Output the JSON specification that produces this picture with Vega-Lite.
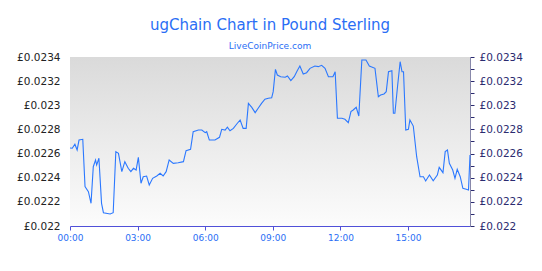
{
  "$schema": "https://vega.github.io/schema/vega-lite/v6.json",
  "width": 400,
  "height": 169,
  "autosize": "none",
  "padding": {"left": 70, "right": 72, "top": 57, "bottom": 45},
  "background": "white",
  "config": {
    "view": {"stroke": null},
    "font": "DejaVu Sans"
  },
  "title": {
    "text": "ugChain Chart in Pound Sterling",
    "subtitle": "LiveCoinPrice.com",
    "anchor": "middle",
    "frame": "group",
    "font": "DejaVu Sans",
    "subtitleFont": "DejaVu Sans",
    "fontSize": 15,
    "fontWeight": "normal",
    "subtitleFontSize": 9,
    "color": "#2a6ef5",
    "subtitleColor": "#2a6ef5",
    "subtitlePadding": 9,
    "offset": 1
  },
  "data": {
    "values": [
      {"t": "2024-01-01T00:00", "v": 0.022646},
      {"t": "2024-01-01T00:06", "v": 0.022644},
      {"t": "2024-01-01T00:13", "v": 0.022677},
      {"t": "2024-01-01T00:19", "v": 0.022630},
      {"t": "2024-01-01T00:24", "v": 0.022712},
      {"t": "2024-01-01T00:34", "v": 0.022718},
      {"t": "2024-01-01T00:40", "v": 0.022326},
      {"t": "2024-01-01T00:49", "v": 0.022284},
      {"t": "2024-01-01T00:56", "v": 0.022188},
      {"t": "2024-01-01T01:02", "v": 0.022491},
      {"t": "2024-01-01T01:08", "v": 0.022547},
      {"t": "2024-01-01T01:11", "v": 0.022505},
      {"t": "2024-01-01T01:17", "v": 0.022561},
      {"t": "2024-01-01T01:24", "v": 0.022188},
      {"t": "2024-01-01T01:29", "v": 0.022110},
      {"t": "2024-01-01T01:47", "v": 0.022099},
      {"t": "2024-01-01T01:55", "v": 0.022110},
      {"t": "2024-01-01T02:02", "v": 0.022616},
      {"t": "2024-01-01T02:09", "v": 0.022602},
      {"t": "2024-01-01T02:18", "v": 0.022450},
      {"t": "2024-01-01T02:26", "v": 0.022533},
      {"t": "2024-01-01T02:35", "v": 0.022478},
      {"t": "2024-01-01T02:42", "v": 0.022450},
      {"t": "2024-01-01T02:49", "v": 0.022478},
      {"t": "2024-01-01T02:56", "v": 0.022464},
      {"t": "2024-01-01T03:02", "v": 0.022569},
      {"t": "2024-01-01T03:09", "v": 0.022354},
      {"t": "2024-01-01T03:15", "v": 0.022408},
      {"t": "2024-01-01T03:24", "v": 0.022414},
      {"t": "2024-01-01T03:31", "v": 0.022340},
      {"t": "2024-01-01T03:40", "v": 0.022395},
      {"t": "2024-01-01T03:51", "v": 0.022414},
      {"t": "2024-01-01T04:00", "v": 0.022437},
      {"t": "2024-01-01T04:08", "v": 0.022414},
      {"t": "2024-01-01T04:16", "v": 0.022450},
      {"t": "2024-01-01T04:24", "v": 0.022547},
      {"t": "2024-01-01T04:35", "v": 0.022519},
      {"t": "2024-01-01T04:48", "v": 0.022524},
      {"t": "2024-01-01T05:02", "v": 0.022533},
      {"t": "2024-01-01T05:09", "v": 0.022624},
      {"t": "2024-01-01T05:21", "v": 0.022635},
      {"t": "2024-01-01T05:28", "v": 0.022781},
      {"t": "2024-01-01T05:42", "v": 0.022795},
      {"t": "2024-01-01T05:51", "v": 0.022795},
      {"t": "2024-01-01T06:00", "v": 0.022773},
      {"t": "2024-01-01T06:04", "v": 0.022781},
      {"t": "2024-01-01T06:11", "v": 0.022712},
      {"t": "2024-01-01T06:26", "v": 0.022712},
      {"t": "2024-01-01T06:38", "v": 0.022735},
      {"t": "2024-01-01T06:44", "v": 0.022801},
      {"t": "2024-01-01T06:53", "v": 0.022795},
      {"t": "2024-01-01T06:59", "v": 0.022818},
      {"t": "2024-01-01T07:06", "v": 0.022789},
      {"t": "2024-01-01T07:15", "v": 0.022809},
      {"t": "2024-01-01T07:24", "v": 0.022845},
      {"t": "2024-01-01T07:33", "v": 0.022878},
      {"t": "2024-01-01T07:41", "v": 0.022809},
      {"t": "2024-01-01T07:49", "v": 0.022809},
      {"t": "2024-01-01T07:55", "v": 0.023016},
      {"t": "2024-01-01T08:04", "v": 0.022983},
      {"t": "2024-01-01T08:13", "v": 0.022939},
      {"t": "2024-01-01T08:21", "v": 0.022975},
      {"t": "2024-01-01T08:30", "v": 0.023016},
      {"t": "2024-01-01T08:39", "v": 0.023050},
      {"t": "2024-01-01T08:48", "v": 0.023058},
      {"t": "2024-01-01T08:57", "v": 0.023063},
      {"t": "2024-01-01T09:01", "v": 0.023113},
      {"t": "2024-01-01T09:07", "v": 0.023298},
      {"t": "2024-01-01T09:12", "v": 0.023251},
      {"t": "2024-01-01T09:21", "v": 0.023237},
      {"t": "2024-01-01T09:33", "v": 0.023232},
      {"t": "2024-01-01T09:39", "v": 0.023243},
      {"t": "2024-01-01T09:48", "v": 0.023204},
      {"t": "2024-01-01T09:57", "v": 0.023237},
      {"t": "2024-01-01T10:05", "v": 0.023287},
      {"t": "2024-01-01T10:12", "v": 0.023325},
      {"t": "2024-01-01T10:21", "v": 0.023259},
      {"t": "2024-01-01T10:30", "v": 0.023270},
      {"t": "2024-01-01T10:39", "v": 0.023306},
      {"t": "2024-01-01T10:52", "v": 0.023325},
      {"t": "2024-01-01T11:01", "v": 0.023320},
      {"t": "2024-01-01T11:10", "v": 0.023331},
      {"t": "2024-01-01T11:19", "v": 0.023306},
      {"t": "2024-01-01T11:28", "v": 0.023237},
      {"t": "2024-01-01T11:40", "v": 0.023237},
      {"t": "2024-01-01T11:46", "v": 0.023278},
      {"t": "2024-01-01T11:52", "v": 0.022892},
      {"t": "2024-01-01T12:04", "v": 0.022892},
      {"t": "2024-01-01T12:12", "v": 0.022884},
      {"t": "2024-01-01T12:21", "v": 0.022856},
      {"t": "2024-01-01T12:28", "v": 0.022947},
      {"t": "2024-01-01T12:34", "v": 0.022961},
      {"t": "2024-01-01T12:42", "v": 0.022983},
      {"t": "2024-01-01T12:49", "v": 0.022911},
      {"t": "2024-01-01T12:57", "v": 0.023375},
      {"t": "2024-01-01T13:08", "v": 0.023375},
      {"t": "2024-01-01T13:17", "v": 0.023325},
      {"t": "2024-01-01T13:32", "v": 0.023306},
      {"t": "2024-01-01T13:41", "v": 0.023071},
      {"t": "2024-01-01T13:47", "v": 0.023085},
      {"t": "2024-01-01T13:56", "v": 0.023094},
      {"t": "2024-01-01T14:02", "v": 0.023113},
      {"t": "2024-01-01T14:08", "v": 0.023278},
      {"t": "2024-01-01T14:17", "v": 0.023287},
      {"t": "2024-01-01T14:21", "v": 0.022934},
      {"t": "2024-01-01T14:25", "v": 0.022934},
      {"t": "2024-01-01T14:32", "v": 0.023154},
      {"t": "2024-01-01T14:39", "v": 0.023361},
      {"t": "2024-01-01T14:44", "v": 0.023278},
      {"t": "2024-01-01T14:48", "v": 0.023278},
      {"t": "2024-01-01T14:54", "v": 0.022795},
      {"t": "2024-01-01T15:01", "v": 0.022801},
      {"t": "2024-01-01T15:05", "v": 0.022878},
      {"t": "2024-01-01T15:14", "v": 0.022828},
      {"t": "2024-01-01T15:23", "v": 0.022574},
      {"t": "2024-01-01T15:32", "v": 0.022408},
      {"t": "2024-01-01T15:41", "v": 0.022408},
      {"t": "2024-01-01T15:47", "v": 0.022373},
      {"t": "2024-01-01T15:57", "v": 0.022422},
      {"t": "2024-01-01T16:07", "v": 0.022375},
      {"t": "2024-01-01T16:18", "v": 0.022422},
      {"t": "2024-01-01T16:23", "v": 0.022486},
      {"t": "2024-01-01T16:33", "v": 0.022442},
      {"t": "2024-01-01T16:39", "v": 0.022616},
      {"t": "2024-01-01T16:45", "v": 0.022630},
      {"t": "2024-01-01T16:50", "v": 0.022519},
      {"t": "2024-01-01T16:59", "v": 0.022464},
      {"t": "2024-01-01T17:05", "v": 0.022395},
      {"t": "2024-01-01T17:11", "v": 0.022470},
      {"t": "2024-01-01T17:19", "v": 0.022408},
      {"t": "2024-01-01T17:26", "v": 0.022312},
      {"t": "2024-01-01T17:35", "v": 0.022304},
      {"t": "2024-01-01T17:41", "v": 0.022298},
      {"t": "2024-01-01T17:45", "v": 0.022588}
    ]
  },
  "encoding": {
    "x": {
      "field": "t",
      "type": "temporal",
      "scale": {"nice": false},
      "axis": {
        "title": null,
        "format": "%H:%M",
        "values": [
          {"year": 2024, "month": 1, "date": 1, "hours": 0},
          {"year": 2024, "month": 1, "date": 1, "hours": 3},
          {"year": 2024, "month": 1, "date": 1, "hours": 6},
          {"year": 2024, "month": 1, "date": 1, "hours": 9},
          {"year": 2024, "month": 1, "date": 1, "hours": 12},
          {"year": 2024, "month": 1, "date": 1, "hours": 15}
        ],
        "grid": false,
        "domainColor": "#5050d8",
        "tickColor": "#5050d8",
        "tickSize": 4,
        "labelColor": "#2a6ef5",
        "labelFontSize": 9,
        "labelFont": "DejaVu Sans",
        "labelPadding": 3,
        "labelFlush": false
      }
    }
  },
  "layer": [
    {
      "mark": {
        "type": "area",
        "color": {
          "gradient": "linear",
          "x1": 0, "y1": 0, "x2": 0, "y2": 1,
          "stops": [
            {"offset": 0, "color": "#dadada"},
            {"offset": 1, "color": "#fcfcfc"}
          ]
        }
      },
      "encoding": {
        "y": {
          "datum": 0.0234,
          "type": "quantitative",
          "scale": {"domain": [0.022, 0.0234], "nice": false, "zero": false},
          "axis": {
            "orient": "left",
            "title": null,
            "values": [0.022, 0.0222, 0.0224, 0.0226, 0.0228, 0.023, 0.0232, 0.0234],
            "labelExpr": "'£' + format(datum.value, '.4~f')",
            "grid": true,
            "gridColor": "#ffffff",
            "gridOpacity": 1,
            "gridWidth": 1.2,
            "domain": false,
            "ticks": false,
            "labelColor": "#222222",
            "labelFontSize": 10.5,
            "labelFont": "DejaVu Sans",
            "labelPadding": 10
          }
        },
        "y2": {"datum": 0.022}
      }
    },
    {
      "mark": {"type": "line", "color": "#2b78ff", "strokeWidth": 1.1},
      "encoding": {
        "y": {
          "field": "v",
          "type": "quantitative",
          "scale": {"domain": [0.022, 0.0234], "nice": false, "zero": false},
          "axis": {
            "orient": "right",
            "title": null,
            "values": [0.022, 0.0221, 0.0222, 0.0223, 0.0224, 0.0225, 0.0226, 0.0227, 0.0228, 0.0229, 0.023, 0.0231, 0.0232, 0.0233, 0.0234],
            "labelExpr": "round(datum.value * 10000) % 2 == 0 ? '£' + format(datum.value, '.4~f') : ''",
            "grid": false,
            "domainColor": "#8888aa",
            "tickColor": "#2b2b70",
            "tickSize": 4,
            "labelColor": "#2b2b70",
            "labelFontSize": 10.5,
            "labelFont": "DejaVu Sans",
            "labelPadding": 5
          }
        }
      }
    }
  ],
  "resolve": {"axis": {"y": "independent"}}
}
